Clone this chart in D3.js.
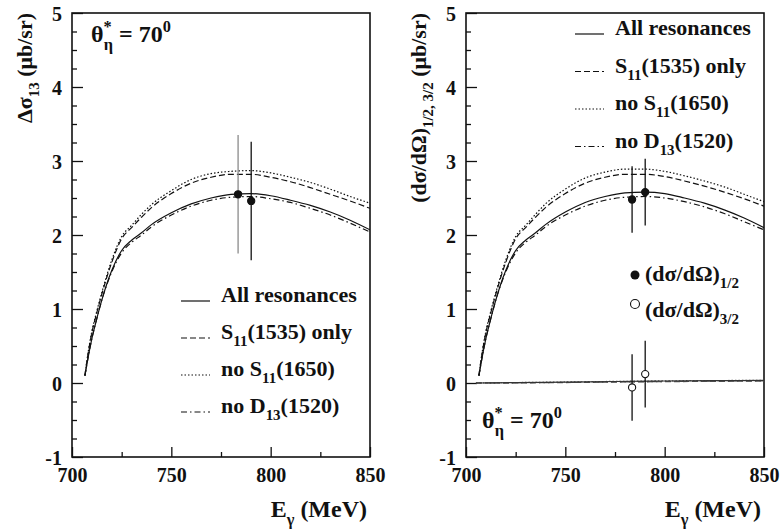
<!DOCTYPE html>
<html><head><meta charset="utf-8">
<script src="https://cdn.jsdelivr.net/npm/d3@7"></script>
<style>
body{margin:0;background:#fff;}
svg{display:block;}
svg text{font-family:"Liberation Serif","Tinos","Times New Roman","DejaVu Serif",serif !important;font-weight:bold;fill:#111;}
</style></head>
<body>
<svg id="c" width="780" height="532"></svg>
<script>
// ---------- data ----------
const energies = [706.5, 708, 710, 712, 715, 720, 725, 730, 735, 740, 750, 760, 770, 780, 790, 800, 810, 820, 830, 840, 850];

const leftAll     = [0.10,0.33,0.60,0.82,1.12,1.52,1.79,1.93,2.03,2.14,2.30,2.42,2.50,2.55,2.56,2.53,2.47,2.40,2.31,2.20,2.07];
const leftS11only = [0.10,0.38,0.68,0.90,1.20,1.63,1.95,2.10,2.24,2.37,2.56,2.70,2.78,2.82,2.82,2.78,2.72,2.64,2.55,2.46,2.36];
const leftNoS11   = [0.10,0.39,0.70,0.92,1.22,1.66,1.98,2.13,2.28,2.41,2.60,2.75,2.83,2.86,2.87,2.84,2.78,2.71,2.62,2.52,2.43];
const leftNoD13   = [0.10,0.33,0.60,0.82,1.12,1.50,1.76,1.90,2.00,2.11,2.27,2.39,2.47,2.51,2.52,2.49,2.44,2.36,2.27,2.16,2.04];

const rightAll     = [0.10,0.33,0.60,0.82,1.12,1.52,1.79,1.93,2.03,2.14,2.31,2.44,2.52,2.57,2.58,2.56,2.50,2.43,2.34,2.23,2.10];
const rightS11only = [0.10,0.38,0.68,0.90,1.20,1.63,1.95,2.10,2.24,2.37,2.56,2.70,2.78,2.82,2.82,2.79,2.73,2.66,2.58,2.49,2.39];
const rightNoS11   = [0.10,0.39,0.70,0.92,1.22,1.66,1.98,2.13,2.28,2.42,2.62,2.77,2.85,2.89,2.89,2.86,2.80,2.73,2.65,2.55,2.45];
const rightNoD13   = [0.10,0.33,0.60,0.82,1.12,1.50,1.76,1.90,2.00,2.11,2.27,2.39,2.47,2.51,2.52,2.50,2.45,2.38,2.29,2.18,2.07];

// helicity 3/2 curves (near zero)
const energies32 = [705, 725, 750, 775, 800, 825, 850];
const all32      = [0.000,0.005,0.012,0.020,0.027,0.031,0.035];
const s11only32  = [0.000,0.002,0.006,0.012,0.018,0.022,0.026];
const noS11_32   = [0.000,0.006,0.014,0.022,0.029,0.033,0.037];
const noD13_32   = [0.000,0.003,0.008,0.014,0.020,0.025,0.030];

// measured points
const leftPtE   = [783.6, 790.2];
const leftPtV   = [2.55, 2.46];
const leftPtErr = [0.80, 0.80];
const half12E   = [783.6, 790.2];
const half12V   = [2.48, 2.58];
const half12Err = [0.45, 0.45];
const half32E   = [783.6, 790.2];
const half32V   = [-0.06, 0.12];
const half32Err = [0.45, 0.45];

const xMajor = [700, 750, 800, 850];
const xMinor = [725, 775, 825];
const yMajor = [-1, 0, 1, 2, 3, 4, 5];
const yMinor = d3.range(-1, 5.001, 0.25).filter(v => Math.abs(v - Math.round(v)) > 1e-6);

const legendLabels = [
  [{t:"All resonances"}],
  [{t:"S"},{t:"11",sub:true},{t:"(1535) only"}],
  [{t:"no S"},{t:"11",sub:true},{t:"(1650)"}],
  [{t:"no D"},{t:"13",sub:true},{t:"(1520)"}]
];
const dashes = [null, "6,3", "1.5,2", "6,3,1.5,3"];

// ---------- drawing ----------
const svg = d3.select("#c");
const INK = "#111";
const FONT = "'Liberation Serif','Tinos','Times New Roman','DejaVu Serif',serif";

function rich(g, x, y, segs, size, opts={}) {
  const t = g.append("text").attr("x", x).attr("y", y).attr("font-family", FONT)
    .attr("font-weight", "bold").style("font-size", size + "px");
  if (opts.anchor) t.attr("text-anchor", opts.anchor);
  if (opts.transform) t.attr("transform", opts.transform);
  let shift = 0;
  segs.forEach(s => {
    const sp = t.append("tspan").text(s.t);
    let target = 0, fs = size;
    if (s.sub) { target = size * 0.32; fs = size * 0.68; }
    if (s.sup) { target = -size * 0.42; fs = size * 0.68; }
    sp.attr("dy", target - shift).style("font-size", fs + "px");
    if (s.dx) sp.attr("dx", s.dx);
    shift = target;
  });
  return t;
}

function panel(x0, x1, opts) {
  const x = d3.scaleLinear().domain([700, 850]).range([x0, x1]);
  const y = d3.scaleLinear().domain([-1, 5]).range([457, 13]);
  const g = svg.append("g");

  // y axis
  const ya = g.append("g").attr("transform", `translate(${x0},0)`)
    .call(d3.axisLeft(y).tickValues(yMajor).tickFormat(d3.format("d")).tickSizeInner(-11).tickSizeOuter(0).tickPadding(10));
  ya.selectAll("text").style("font-size", "20px").attr("dy", "0.36em").text(d => d < 0 ? "-" + Math.abs(d) : d);
  g.append("g").attr("transform", `translate(${x0},0)`)
    .call(d3.axisLeft(y).tickValues(yMinor).tickFormat("").tickSizeInner(-5).tickSizeOuter(0));
  // x axis
  const xa = g.append("g").attr("transform", `translate(0,457)`)
    .call(d3.axisBottom(x).tickValues(xMajor).tickFormat(d3.format("d")).tickSizeInner(-10).tickSizeOuter(0).tickPadding(0));
  xa.selectAll("text").style("font-size", "20px").attr("y", 25).attr("dy", 0);
  g.append("g").attr("transform", `translate(0,457)`)
    .call(d3.axisBottom(x).tickValues(xMinor).tickFormat("").tickSizeInner(-5).tickSizeOuter(0));
  g.selectAll("g").attr("font-family", FONT);
  g.selectAll(".domain").remove();
  g.selectAll(".tick line").attr("stroke", INK).attr("stroke-width", 1.3);
  g.selectAll(".tick text").attr("fill", INK).attr("font-family", FONT).attr("font-weight", "bold");

  // frame
  g.append("rect").attr("x", x0).attr("y", y(5)).attr("width", x1 - x0).attr("height", y(-1) - y(5))
    .attr("fill", "none").attr("stroke", INK).attr("stroke-width", 1.6);

  const line = d3.line().x(d => x(d[0])).y(d => y(d[1])).curve(d3.curveMonotoneX);
  const clip = "clip" + x0;
  g.append("clipPath").attr("id", clip).append("rect").attr("x", x0).attr("y", 13).attr("width", x1 - x0).attr("height", 444);
  const cg = g.append("g").attr("clip-path", `url(#${clip})`);

  opts.series.forEach((s, i) => {
    cg.append("path").datum(s.E.map((e, k) => [e, s.v[k]])).attr("d", line)
      .attr("fill", "none").attr("stroke", s.color || INK).attr("stroke-width", s.w || 1.2)
      .attr("stroke-dasharray", dashes[s.style]);
  });

  // points
  opts.points.forEach(p => {
    p.E.forEach((e, k) => {
      cg.append("line").attr("x1", x(e)).attr("x2", x(e))
        .attr("y1", y(p.v[k] + p.err[k])).attr("y2", y(p.v[k] - p.err[k]))
        .attr("stroke", (p.barColors && p.barColors[k]) || INK).attr("stroke-width", 1.3);
      cg.append("circle").attr("cx", x(e)).attr("cy", y(p.v[k])).attr("r", 3.6)
        .attr("fill", p.open ? "#fff" : INK).attr("stroke", INK).attr("stroke-width", 1.1);
    });
  });

  // legend
  const L = opts.legend;
  legendLabels.forEach((lab, i) => {
    const by = L.y + i * L.step;
    g.append("line").attr("x1", L.x).attr("x2", L.x + 29).attr("y1", by - 1).attr("y2", by - 1)
      .attr("stroke", INK).attr("stroke-width", 1.2).attr("stroke-dasharray", dashes[i]);
    rich(g, L.x + 40, by, lab, 22);
  });

  // theta label
  rich(g, opts.theta[0], opts.theta[1], [
    {t:"θ"}, {t:"*", sup:true}, {t:"η", sub:true, dx:-8}, {t:" = 70"}, {t:"0", sup:true}
  ], 24);

  // x title
  rich(g, x1 - 3, 517, [{t:"E"},{t:"γ",sub:true},{t:" (MeV)"}], 24, {anchor:"end"});
  // y title
  rich(g, 0, 0, opts.ytitle, 22, {anchor:"end", transform:`translate(${x0 - 40},13) rotate(-90)`});
  return {g, x, y};
}

// left panel
panel(72, 370, {
  series: [
    {E: energies, v: leftNoD13, style: 3},
    {E: energies, v: leftNoS11, style: 2},
    {E: energies, v: leftS11only, style: 1},
    {E: energies, v: leftAll, style: 0}
  ],
  points: [{E: leftPtE, v: leftPtV, err: leftPtErr, open: false, barColors: ["#8a8a8a", INK]}],
  legend: {x: 181, y: 302, step: 37},
  theta: [91, 42],
  ytitle: [{t:"Δσ"},{t:"13",sub:true},{t:" (μb/sr)"}]
});

// right panel
const R = panel(466, 764, {
  series: [
    {E: energies32, v: noD13_32, style: 3, color: "#555"},
    {E: energies32, v: noS11_32, style: 2, color: "#555"},
    {E: energies32, v: s11only32, style: 1, color: "#555"},
    {E: energies32, v: all32, style: 0, color: "#333"},
    {E: energies, v: rightNoD13, style: 3},
    {E: energies, v: rightNoS11, style: 2},
    {E: energies, v: rightS11only, style: 1},
    {E: energies, v: rightAll, style: 0}
  ],
  points: [
    {E: half12E, v: half12V, err: half12Err, open: false},
    {E: half32E, v: half32V, err: half32Err, open: true}
  ],
  legend: {x: 575, y: 35, step: 37.5},
  theta: [482, 428],
  ytitle: [{t:"(dσ/dΩ)"},{t:"1/2, 3/2",sub:true},{t:" (μb/sr)"}]
});

// marker legend (right panel)
R.g.append("circle").attr("cx", 635).attr("cy", 275).attr("r", 4.5).attr("fill", INK);
rich(R.g, 645, 281, [{t:"(dσ/dΩ)"},{t:"1/2",sub:true}], 22);
R.g.append("circle").attr("cx", 635).attr("cy", 304).attr("r", 4.5).attr("fill", "#fff").attr("stroke", INK).attr("stroke-width", 1.1);
rich(R.g, 645, 317, [{t:"(dσ/dΩ)"},{t:"3/2",sub:true}], 22);
</script>
</body></html>
